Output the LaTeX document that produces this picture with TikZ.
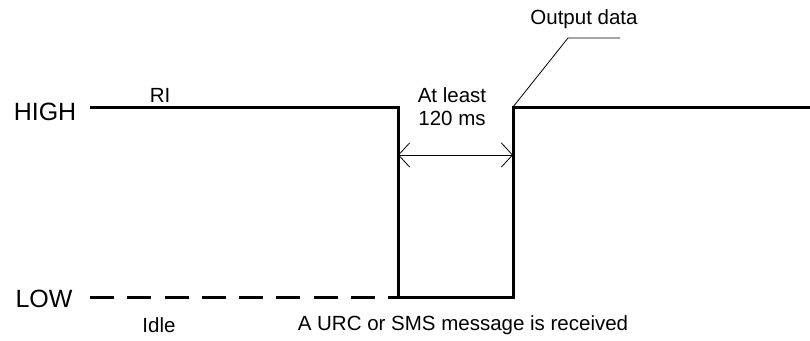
\documentclass[tikz,border=0pt]{standalone}
\usepackage{fontspec}
\setmainfont{Liberation Sans}
\usetikzlibrary{arrows.meta}

\tikzset{
  wave/.style={line width=3pt},
  lvl/.style={font=\fontsize{25}{29}\selectfont},
  txt/.style={font=\fontsize{20.5}{24}\selectfont, align=center}
}

\begin{document}
\begin{tikzpicture}[x=1pt,y=-1pt]
    \useasboundingbox (0,0) rectangle (810,340);

    % levels
    \node[lvl] (high) at (45,111.5) {HIGH};
    \node[lvl] (low) at (44,299) {LOW};
    \coordinate (h0) at (90,107);
    \coordinate (fall) at (398,107);
    \coordinate (l0) at (90,297);
    \coordinate (rise) at (513,107);
    \coordinate (h1) at (810,107);

    % signal
    \draw [wave] (h0)--(fall)--(fall|-l0)--(rise|-l0)--(rise)--(h1);
    \draw [wave,dash pattern=on 24pt off 13.25pt] (l0)--(fall|-l0);

    % timing
    \draw [{Straight Barb[length=11pt,width=24pt]}-{Straight Barb[length=11pt,width=24pt]},line width=0.8pt]
        ([yshift=-48pt]fall)--([yshift=-48pt]rise);
    \node[txt] (least) at (452,107) {At least\\[-1pt]120 ms};

    % output data
    \coordinate (knee) at (568,38);
    \coordinate (tail) at (620,38);
    \draw [line width=0.8pt] (rise)--(knee)--(tail);
    \node[txt] (out) at (584,19) {Output data};

    \node[txt] (ri) at (160,95) {RI};
    \node[txt] (idle) at (159,325) {Idle};
    \node[txt] (urc) at (463,325) {A URC or SMS message is received};
\end{tikzpicture}
\end{document}
